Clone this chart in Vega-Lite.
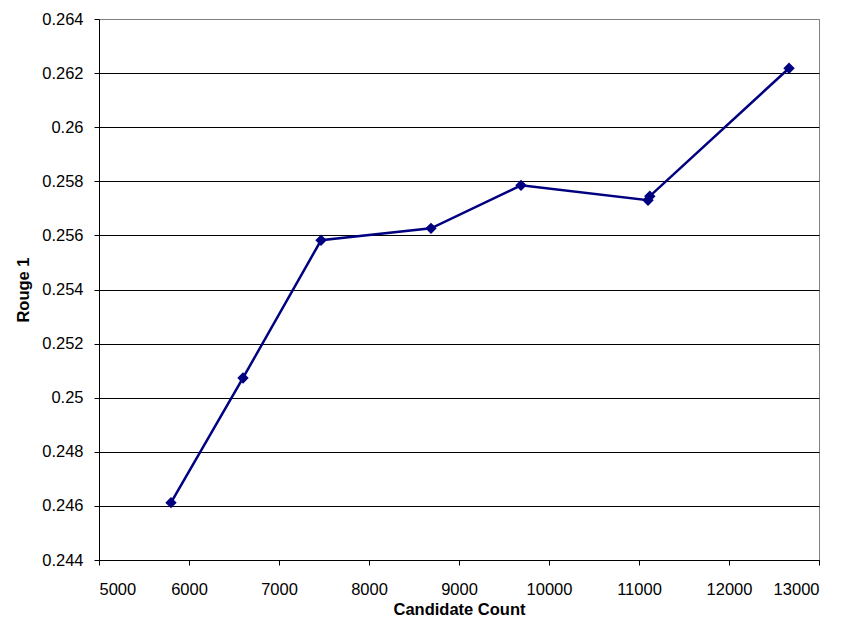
{
  "$schema": "https://vega.github.io/schema/vega-lite/v6.json",
  "width": 720,
  "height": 541,
  "autosize": {"type": "none"},
  "padding": {"left": 99, "top": 19, "right": 28, "bottom": 67},
  "background": "white",
  "config": {
    "view": {"stroke": "#808080", "strokeWidth": 1},
    "font": "Liberation Sans",
    "axis": {
      "labelFont": "Liberation Sans",
      "labelFontSize": 16.5,
      "labelColor": "black",
      "titleFont": "Liberation Sans",
      "titleFontSize": 16.5,
      "titleFontWeight": "bold",
      "titleColor": "black",
      "domainColor": "black",
      "tickColor": "black",
      "tickSize": 5
    }
  },
  "data": {
    "values": [
      {"count": 5800, "rouge1": 0.24612},
      {"count": 6600, "rouge1": 0.25073},
      {"count": 7467, "rouge1": 0.25582},
      {"count": 8689, "rouge1": 0.25626},
      {"count": 9689, "rouge1": 0.25785},
      {"count": 11100, "rouge1": 0.2573},
      {"count": 11120, "rouge1": 0.25745},
      {"count": 12667, "rouge1": 0.26218}
    ]
  },
  "encoding": {
    "x": {
      "field": "count",
      "type": "quantitative",
      "title": "Candidate Count",
      "scale": {"domain": [5000, 13000], "nice": false, "zero": false},
      "axis": {
        "values": [5000, 6000, 7000, 8000, 9000, 10000, 11000, 12000, 13000],
        "format": "d",
        "grid": false,
        "labelPadding": 16,
        "titlePadding": 4
      }
    },
    "y": {
      "field": "rouge1",
      "type": "quantitative",
      "title": "Rouge 1",
      "scale": {"domain": [0.244, 0.264], "nice": false, "zero": false},
      "axis": {
        "values": [0.244, 0.246, 0.248, 0.25, 0.252, 0.254, 0.256, 0.258, 0.26, 0.262, 0.264],
        "format": ".3~f",
        "grid": true,
        "gridColor": {"condition": {"test": "datum.value >= 0.2639", "value": "#808080"}, "value": "black"},
        "gridOpacity": 1,
        "labelPadding": 11,
        "titlePadding": 10
      }
    }
  },
  "layer": [
    {
      "mark": {"type": "line", "color": "#000080", "strokeWidth": 2.5}
    },
    {
      "mark": {"type": "point", "shape": "diamond", "filled": true, "color": "#000080", "opacity": 1, "size": 130}
    }
  ]
}
